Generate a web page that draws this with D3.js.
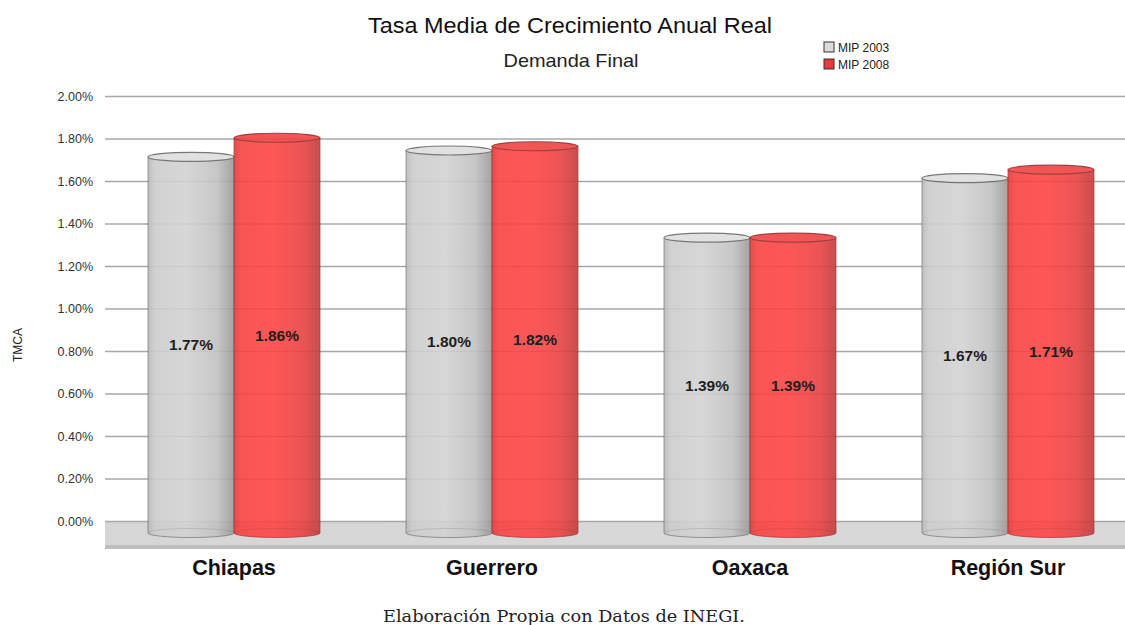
<!DOCTYPE html>
<html>
<head>
<meta charset="utf-8">
<script src="https://cdn.jsdelivr.net/npm/d3@7/dist/d3.min.js"></script>
<style>
  html, body { margin: 0; padding: 0; background: #fff; }
  svg { display: block; }
</style>
</head>
<body>
<svg id="chart" width="1125" height="625"></svg>
<script>
// Tasa Media de Crecimiento Anual Real — Demanda Final
const categories = ["Chiapas", "Guerrero", "Oaxaca", "Región Sur"];
const seriesNames = ["MIP 2003", "MIP 2008"];
const mip2003 = [1.77, 1.80, 1.39, 1.67];
const mip2008 = [1.86, 1.82, 1.39, 1.71];
const yTicks = [0, 0.2, 0.4, 0.6, 0.8, 1.0, 1.2, 1.4, 1.6, 1.8, 2.0];

const svg = d3.select("#chart");
const W = 1125, H = 625;
const SANS = "Liberation Sans, Arial, sans-serif";

// plot geometry
const left = 105, right = 1137;
const y = d3.scaleLinear().domain([0, 2]).range([521, 96]);
const x0 = d3.scaleBand().domain(categories).range([left, right]).paddingInner(0.3333).paddingOuter(0.1667);
const x1 = d3.scaleBand().domain(seriesNames).range([0, x0.bandwidth()]);
const depth = 12;      // floor offset of the bar bases
const ry = 4.5;        // vertical radius of the cylinder caps

const defs = svg.append("defs");
function sideGradient(id, stops) {
  const g = defs.append("linearGradient").attr("id", id)
    .attr("x1", "0%").attr("x2", "100%").attr("y1", "0%").attr("y2", "0%");
  stops.forEach(s => g.append("stop").attr("offset", s[0]).attr("stop-color", s[1]));
}
sideGradient("gGray", [["0%", "#b9b9b9"], ["8%", "#cdcdcd"], ["45%", "#d3d3d3"], ["80%", "#c2c2c2"], ["100%", "#9a9a9a"]]);
sideGradient("gRed", [["0%", "#e23a3a"], ["8%", "#f84343"], ["45%", "#ff4545"], ["80%", "#ea4242"], ["100%", "#c23c3c"]]);
sideGradient("gFloor", [["0%", "#d6d6d6"], ["100%", "#d9d9d9"]]);

const styles = {
  "MIP 2003": { side: "url(#gGray)", cap: "#dedede", edge: "#6a6a6a", legend: "#dcdcdc" },
  "MIP 2008": { side: "url(#gRed)", cap: "#f04444", edge: "#9a2a2a", legend: "#e83c3c" }
};

// floor
svg.append("rect").attr("x", left).attr("y", y(0)).attr("width", W - left).attr("height", 24)
  .attr("fill", "url(#gFloor)");
svg.append("rect").attr("x", left).attr("y", y(0) + 24).attr("width", W - left).attr("height", 4)
  .attr("fill", "#bdbdbd");

// gridlines and y axis labels
const yAxis = d3.axisLeft(y).tickValues(yTicks).tickSize(-(W - left)).tickPadding(12)
  .tickFormat(d => d.toFixed(2) + "%");
const gy = svg.append("g").attr("transform", `translate(${left},0)`).call(yAxis);
gy.select(".domain").remove();
gy.selectAll(".tick line").attr("stroke", "#a8a8a8").attr("stroke-width", 1.5);
gy.selectAll(".tick text").attr("fill", "#333").attr("font-family", SANS).attr("font-size", 12.5);

svg.append("text").attr("transform", "translate(22,345) rotate(-90)").attr("text-anchor", "middle")
  .attr("font-family", SANS).attr("font-size", 12).attr("fill", "#222")
  .text("TMCA");

// cylinders
const rows = categories.map((c, i) => ({ cat: c, vals: [mip2003[i], mip2008[i]] }));
rows.forEach(r => {
  const g = svg.append("g").attr("transform", `translate(${x0(r.cat)},0)`);
  r.vals.forEach((v, j) => {
    const s = seriesNames[j];
    const st = styles[s];
    const bx = x1(s), bw = x1.bandwidth();
    const top = y(v) + depth, base = y(0) + depth;
    const cx = bx + bw / 2, rx = bw / 2;
    const cyl = g.append("g").attr("opacity", 0.9);
    // body: side with rounded bottom
    cyl.append("path")
      .attr("d", `M${bx},${top} L${bx},${base} A${rx},${ry} 0 0 0 ${bx + bw},${base} L${bx + bw},${top} Z`)
      .attr("fill", st.side).attr("stroke", st.edge).attr("stroke-width", 1).attr("stroke-opacity", 0.7);
    // faint back rim of the base
    cyl.append("path")
      .attr("d", `M${bx},${base} A${rx},${ry} 0 0 1 ${bx + bw},${base}`)
      .attr("fill", "none").attr("stroke", st.edge).attr("stroke-opacity", 0.25);
    // top cap
    cyl.append("ellipse").attr("cx", cx).attr("cy", top).attr("rx", rx).attr("ry", ry)
      .attr("fill", st.cap).attr("stroke", st.edge).attr("stroke-width", 1.2);
    // value label at mid height
    g.append("text").attr("x", cx).attr("y", (top + base) / 2).attr("dy", "0.35em")
      .attr("text-anchor", "middle").attr("font-family", SANS)
      .attr("font-weight", "bold").attr("font-size", 15.5).attr("fill", "#1e1e1e")
      .text(v.toFixed(2) + "%");
  });
});

// category labels
svg.append("g").selectAll("text").data(categories).join("text")
  .attr("x", d => x0(d) + x0.bandwidth() / 2).attr("y", 575)
  .attr("text-anchor", "middle").attr("font-family", SANS)
  .attr("font-weight", "bold").attr("font-size", 21.5).attr("fill", "#111")
  .text(d => d);

// titles
svg.append("text").attr("x", 570).attr("y", 33).attr("text-anchor", "middle")
  .attr("font-family", SANS).attr("font-size", 22.5).attr("fill", "#111")
  .attr("textLength", 404).attr("lengthAdjust", "spacingAndGlyphs")
  .text("Tasa Media de Crecimiento Anual Real");
svg.append("text").attr("x", 571).attr("y", 67).attr("text-anchor", "middle")
  .attr("font-family", SANS).attr("font-size", 18.5).attr("fill", "#222")
  .attr("textLength", 135).attr("lengthAdjust", "spacingAndGlyphs")
  .text("Demanda Final");

// legend
const lg = svg.append("g").attr("transform", "translate(824,42)");
seriesNames.forEach((s, i) => {
  lg.append("rect").attr("x", 0).attr("y", i * 17).attr("width", 10).attr("height", 10)
    .attr("fill", styles[s].legend).attr("stroke", "#333").attr("stroke-width", 1);
  lg.append("text").attr("x", 14).attr("y", i * 17 + 9.5)
    .attr("font-family", SANS).attr("font-size", 12).attr("fill", "#222")
    .text(s);
});

// source note
svg.append("text").attr("x", 564).attr("y", 622).attr("text-anchor", "middle")
  .attr("font-family", "DejaVu Serif, serif").attr("font-size", 16).attr("fill", "#222")
  .attr("textLength", 362).attr("lengthAdjust", "spacingAndGlyphs")
  .text("Elaboración Propia con Datos de INEGI.");
</script>
</body>
</html>
